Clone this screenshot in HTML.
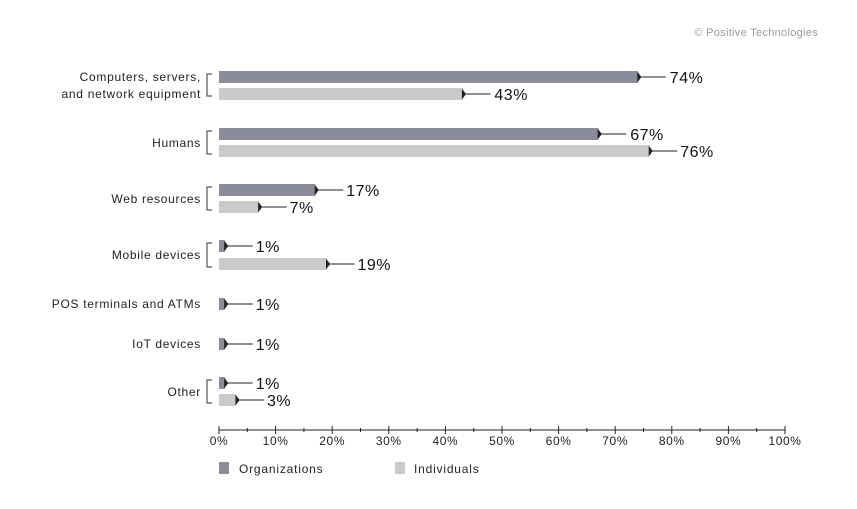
<!DOCTYPE html><html><head><style>body{margin:0;background:#fff}</style></head><body>
<svg width="857" height="504" xmlns="http://www.w3.org/2000/svg" font-family="Liberation Sans, sans-serif">
<text x="818" y="36" font-size="11" fill="#999" text-anchor="end" letter-spacing="0.3">© Positive Technologies</text>
<g stroke="#222" stroke-width="1">
<line x1="637.8" y1="77" x2="665.8" y2="77"/><line x1="462.4" y1="94" x2="490.4" y2="94"/>
<line x1="598.2" y1="134" x2="626.2" y2="134"/><line x1="649.2" y1="151" x2="677.2" y2="151"/>
<line x1="315.2" y1="190" x2="343.2" y2="190"/><line x1="258.6" y1="207" x2="286.6" y2="207"/>
<line x1="224.7" y1="246" x2="252.7" y2="246"/><line x1="326.5" y1="264" x2="354.5" y2="264"/>
<line x1="224.7" y1="304" x2="252.7" y2="304"/><line x1="224.7" y1="344" x2="252.7" y2="344"/>
<line x1="224.7" y1="383" x2="252.7" y2="383"/><line x1="236" y1="400" x2="264" y2="400"/>
</g>
<g fill="#8a8b9b">
<rect x="219" y="71" width="418.8" height="12"/><rect x="219" y="128" width="379.2" height="12"/>
<rect x="219" y="184" width="96.2" height="12"/><rect x="219" y="240" width="5.7" height="12"/>
<rect x="219" y="298" width="5.7" height="12"/><rect x="219" y="338" width="5.7" height="12"/>
<rect x="219" y="377" width="5.7" height="12"/>
<rect x="219" y="462" width="10" height="12"/>
</g>
<g fill="#cacacc">
<rect x="219" y="88" width="243.4" height="12"/><rect x="219" y="145" width="430.2" height="12"/>
<rect x="219" y="201" width="39.6" height="12"/><rect x="219" y="258" width="107.5" height="12"/>
<rect x="219" y="394" width="17" height="12"/>
<rect x="395" y="462" width="10" height="12"/>
</g>
<g fill="#222" stroke="#222" stroke-width="1">
<path d="M637.8 73L640.8 77L637.8 81Z"/><path d="M462.4 90L465.4 94L462.4 98Z"/>
<path d="M598.2 130L601.2 134L598.2 138Z"/><path d="M649.2 147L652.2 151L649.2 155Z"/>
<path d="M315.2 186L318.2 190L315.2 194Z"/><path d="M258.6 203L261.6 207L258.6 211Z"/>
<path d="M224.7 242L227.7 246L224.7 250Z"/><path d="M326.5 260L329.5 264L326.5 268Z"/>
<path d="M224.7 300L227.7 304L224.7 308Z"/><path d="M224.7 340L227.7 344L224.7 348Z"/>
<path d="M224.7 379L227.7 383L224.7 387Z"/><path d="M236 396L239 400L236 404Z"/>
</g>
<g font-size="16" fill="#111" letter-spacing="0.5">
<text x="669.8" y="83">74%</text><text x="494.4" y="100">43%</text>
<text x="630.2" y="140">67%</text><text x="680.2" y="157">76%</text>
<text x="346.2" y="196">17%</text><text x="289.6" y="213">7%</text>
<text x="255.7" y="252">1%</text><text x="357.5" y="270">19%</text>
<text x="255.7" y="310">1%</text><text x="255.7" y="350">1%</text>
<text x="255.7" y="389">1%</text><text x="267" y="406">3%</text>
</g>
<g font-size="12" fill="#222" text-anchor="end" letter-spacing="0.7">
<text x="201" y="81">Computers, servers,</text><text x="201" y="98">and network equipment</text>
<text x="201" y="147">Humans</text><text x="201" y="203">Web resources</text>
<text x="201" y="259">Mobile devices</text><text x="201" y="308">POS terminals and ATMs</text>
<text x="201" y="348">IoT devices</text><text x="201" y="396">Other</text>
</g>
<g fill="none" stroke="#333" stroke-width="1">
<path d="M212 74H207V96H212"/><path d="M212 131H207V154H212"/><path d="M212 187H207V210H212"/>
<path d="M212 243H207V267H212"/><path d="M212 380H207V403H212"/>
</g>
<g stroke="#222" stroke-width="1">
<line x1="219" y1="430" x2="785" y2="430"/>
<line x1="219" y1="426" x2="219" y2="434"/><line x1="247.3" y1="428" x2="247.3" y2="432"/>
<line x1="275.6" y1="426" x2="275.6" y2="434"/><line x1="303.9" y1="428" x2="303.9" y2="432"/>
<line x1="332.2" y1="426" x2="332.2" y2="434"/><line x1="360.5" y1="428" x2="360.5" y2="432"/>
<line x1="388.8" y1="426" x2="388.8" y2="434"/><line x1="417.1" y1="428" x2="417.1" y2="432"/>
<line x1="445.4" y1="426" x2="445.4" y2="434"/><line x1="473.7" y1="428" x2="473.7" y2="432"/>
<line x1="502" y1="426" x2="502" y2="434"/><line x1="530.3" y1="428" x2="530.3" y2="432"/>
<line x1="558.6" y1="426" x2="558.6" y2="434"/><line x1="586.9" y1="428" x2="586.9" y2="432"/>
<line x1="615.2" y1="426" x2="615.2" y2="434"/><line x1="643.5" y1="428" x2="643.5" y2="432"/>
<line x1="671.8" y1="426" x2="671.8" y2="434"/><line x1="700.1" y1="428" x2="700.1" y2="432"/>
<line x1="728.4" y1="426" x2="728.4" y2="434"/><line x1="756.7" y1="428" x2="756.7" y2="432"/>
<line x1="785" y1="426" x2="785" y2="434"/>
</g>
<g font-size="12" fill="#222" text-anchor="middle" letter-spacing="0.6">
<text x="219" y="445">0%</text><text x="275.6" y="445">10%</text><text x="332.2" y="445">20%</text>
<text x="388.8" y="445">30%</text><text x="445.4" y="445">40%</text><text x="502" y="445">50%</text>
<text x="558.6" y="445">60%</text><text x="615.2" y="445">70%</text><text x="671.8" y="445">80%</text>
<text x="728.4" y="445">90%</text><text x="785" y="445">100%</text>
</g>
<g font-size="12" fill="#222" letter-spacing="0.8">
<text x="239" y="473">Organizations</text>
<text x="414" y="473">Individuals</text>
</g>
</svg></body></html>
